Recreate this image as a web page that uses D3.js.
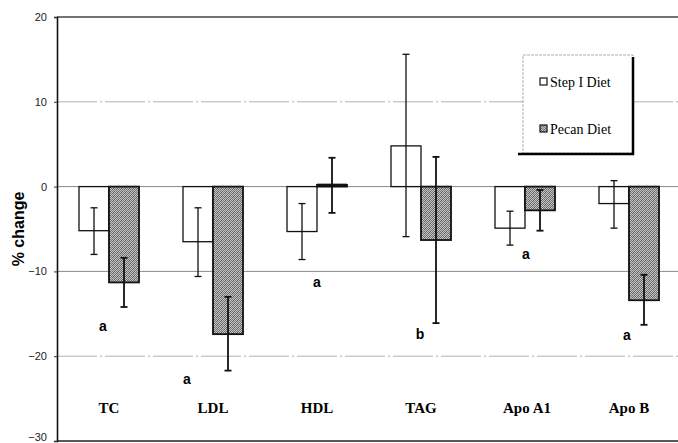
<!DOCTYPE html>
<html>
<head>
<meta charset="utf-8">
<script src="https://cdn.jsdelivr.net/npm/d3@7"></script>
<style>
  body { margin: 0; background: #fff; }
  svg { display: block; }
</style>
</head>
<body>
<div id="chart"></div>
<script>
const categories = ['TC', 'LDL', 'HDL', 'TAG', 'Apo A1', 'Apo B']
const series = ['Step I Diet', 'Pecan Diet']

const stepMean = [-5.2, -6.5, -5.3, 4.8, -4.9, -2.0]
const stepLow = [-8.0, -10.6, -8.6, -5.9, -6.9, -4.9]
const stepHigh = [-2.5, -2.5, -2.0, 15.6, -2.9, 0.7]

const pecanMean = [-11.3, -17.4, 0.2, -6.3, -2.8, -13.4]
const pecanLow = [-14.2, -21.7, -3.1, -16.1, -5.2, -16.3]
const pecanHigh = [-8.4, -13.0, 3.4, 3.5, -0.4, -10.4]

const sigLetters = ['a', 'a', 'a', 'b', 'a', 'a']
const sigValues = [-16.5, -22.7, -11.3, -17.4, -8.0, -17.5]

const yTicks = [20, 10, 0, -10, -20, -30]

const W = 678, H = 443
const plotL = 57, plotR = 681, plotT = 17, plotB = 441

const svg = d3.select('#chart').append('svg')
  .attr('width', W).attr('height', H)
  .style('font-family', 'Arial, "Liberation Sans", sans-serif')

// fine stipple like the scanned grey fill
const defs = svg.append('defs')
const pat = defs.append('pattern')
  .attr('id', 'stipple').attr('patternUnits', 'userSpaceOnUse')
  .attr('width', 4).attr('height', 4)
pat.append('rect').attr('width', 4).attr('height', 4).attr('fill', '#c4c4c4')
;[[0, 0], [2, 0], [1, 1], [3, 1], [0, 2], [2, 2], [1, 3], [3, 3]].forEach(([px, py], k) => {
  pat.append('rect').attr('x', px).attr('y', py).attr('width', 1).attr('height', 1)
    .attr('fill', k % 3 === 0 ? '#5c5c5c' : '#787878')
})

const y = d3.scaleLinear().domain([-30, 20]).range([plotB, plotT])
const x = d3.scaleBand().domain(categories).range([plotL, plotR]).padding(0)
const xs = d3.scaleBand().domain(series).range([0, x.bandwidth()]).paddingOuter(0.733)

// gridlines
const grid = svg.append('g').attr('class', 'grid')
grid.selectAll('line').data([10, 0, -10, -20]).enter().append('line')
  .attr('x1', plotL).attr('x2', W)
  .attr('y1', d => y(d)).attr('y2', d => y(d))
  .attr('stroke', d => d === 0 || d === -10 ? '#8a8a8a' : '#b0b0b0')
  .attr('stroke-width', 1)
  .attr('stroke-dasharray', d => d === 0 || d === -10 ? null : '40,3,2,3')

// frame lines
svg.append('line')
  .attr('x1', plotL).attr('x2', W).attr('y1', plotT).attr('y2', plotT)
  .attr('stroke', '#444').attr('stroke-width', 1.5)
svg.append('line')
  .attr('x1', plotL).attr('x2', W).attr('y1', plotB).attr('y2', plotB)
  .attr('stroke', '#222').attr('stroke-width', 1.5)

// y axis
const yAxis = svg.append('g')
  .attr('transform', `translate(${plotL},0)`)
  .call(d3.axisLeft(y).tickValues(yTicks).tickSize(3).tickPadding(7))
yAxis.select('.domain').attr('stroke', '#111').attr('stroke-width', 1.6)
yAxis.selectAll('.tick line').attr('stroke', '#333')
yAxis.selectAll('.tick text').attr('font-size', 11).attr('fill', '#222')
  .attr('font-family', 'Arial, "Liberation Sans", sans-serif')
  .attr('dy', d => d === -30 ? '-0.05em' : '0.32em')

svg.append('text')
  .attr('transform', `translate(24, ${y(-5)}) rotate(-90)`)
  .attr('text-anchor', 'middle')
  .attr('font-size', 16).attr('font-weight', 'bold')
  .text('% change')

// bars
const rows = categories.map((c, i) => [
  {cat: c, s: series[0], v: stepMean[i], lo: stepLow[i], hi: stepHigh[i]},
  {cat: c, s: series[1], v: pecanMean[i], lo: pecanLow[i], hi: pecanHigh[i]}
])

const groups = svg.append('g').selectAll('g.cat').data(rows).enter().append('g')
  .attr('class', 'cat')
  .attr('transform', d => `translate(${x(d[0].cat)},0)`)

groups.selectAll('rect').data(d => d).enter().append('rect')
  .attr('x', d => xs(d.s))
  .attr('width', xs.bandwidth())
  .attr('y', d => y(Math.max(0, d.v)))
  .attr('height', d => Math.abs(y(d.v) - y(0)))
  .attr('fill', d => d.s === series[0] ? '#fff' : 'url(#stipple)')
  .attr('stroke', '#111')
  .attr('stroke-width', d => d.s === series[0] ? 1.3 : 1.8)

// error bars
const err = groups.selectAll('g.err').data(d => d).enter().append('g')
  .attr('class', 'err')
  .attr('stroke', '#111')
  .attr('stroke-width', d => d.s === series[0] ? 1.3 : 1.8)
err.append('line')
  .attr('x1', d => xs(d.s) + xs.bandwidth() / 2).attr('x2', d => xs(d.s) + xs.bandwidth() / 2)
  .attr('y1', d => y(d.hi)).attr('y2', d => y(d.lo))
err.selectAll('line.cap').data(d => [[d, d.hi], [d, d.lo]]).enter().append('line')
  .attr('class', 'cap')
  .attr('x1', d => xs(d[0].s) + xs.bandwidth() / 2 - 3.5)
  .attr('x2', d => xs(d[0].s) + xs.bandwidth() / 2 + 3.5)
  .attr('y1', d => y(d[1])).attr('y2', d => y(d[1]))

// HDL pecan bar is tiny, draw thicker top
groups.filter(d => Math.abs(d[1].v) < 1).append('line')
  .attr('x1', xs(series[1])).attr('x2', xs(series[1]) + xs.bandwidth())
  .attr('y1', d => y(d[1].v)).attr('y2', d => y(d[1].v))
  .attr('stroke', '#111').attr('stroke-width', 2.5)

// significance letters
const letterDx = [-6, -26, 0, -1, 1, -2]
svg.append('g').selectAll('text').data(sigLetters).enter().append('text')
  .attr('x', (d, i) => x(categories[i]) + x.bandwidth() / 2 + letterDx[i])
  .attr('y', (d, i) => y(sigValues[i]))
  .attr('dy', '0.35em')
  .attr('text-anchor', 'middle')
  .attr('font-size', 14).attr('font-weight', 'bold')
  .text(d => d)

// category labels
svg.append('g').selectAll('text').data(categories).enter().append('text')
  .attr('x', d => x(d) + x.bandwidth() / 2 + (d === 'Apo A1' ? 2 : 0))
  .attr('y', 413)
  .attr('text-anchor', 'middle')
  .attr('font-family', '"Liberation Serif", "Times New Roman", serif')
  .attr('font-size', 15).attr('font-weight', 'bold')
  .text(d => d)

// legend
const lg = svg.append('g').attr('transform', 'translate(523,55)')
lg.append('rect').attr('width', 110).attr('height', 98)
  .attr('fill', '#fff').attr('stroke', '#999').attr('stroke-width', 0.8)
  .attr('stroke-dasharray', '3,1')
lg.append('path').attr('d', 'M110,2 V99 H-5')
  .attr('fill', 'none').attr('stroke', '#000').attr('stroke-width', 2.5)
const li = lg.selectAll('g.item').data(series).enter().append('g')
  .attr('class', 'item')
  .attr('transform', (d, i) => `translate(17, ${27 + i * 47})`)
li.append('rect').attr('x', 0).attr('y', -4).attr('width', 7).attr('height', 7)
  .attr('fill', (d, i) => i === 0 ? '#fff' : 'url(#stipple)')
  .attr('stroke', '#111').attr('stroke-width', 1.2)
li.append('text').attr('x', 10).attr('y', 0).attr('dy', '0.35em')
  .attr('font-family', '"Liberation Serif", "Times New Roman", serif')
  .attr('font-size', 14)
  .text(d => d)
</script>
</body>
</html>
